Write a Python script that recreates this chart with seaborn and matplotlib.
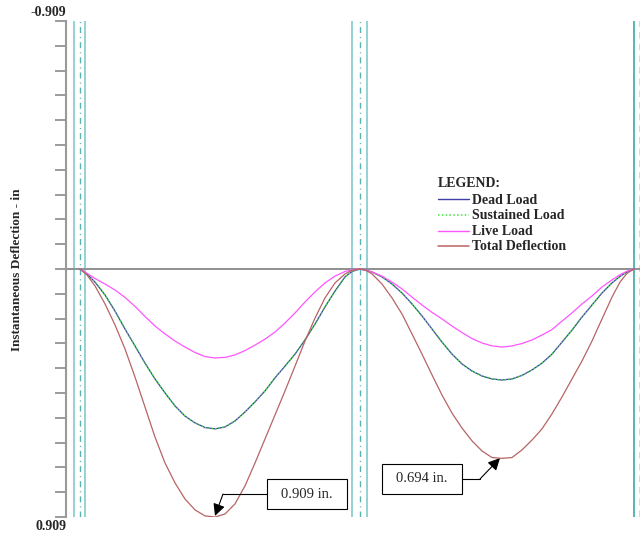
import numpy as np
import matplotlib
matplotlib.use("Agg")
import matplotlib.pyplot as plt
from matplotlib.transforms import Affine2D
from matplotlib.patches import Rectangle
from matplotlib.lines import Line2D
import seaborn as sns

# ---------------- data (x in ft along the beam, deflection in inches) ----------------
beam_x = [0, 0.7, 1.5, 2.5, 3.5, 4.5, 5.5, 6.5, 7.5, 8.5, 9.5, 10.5, 11.5, 12.5, 13.5,
          14.5, 15.5, 16.5, 17.5, 18.5, 19.5, 20.5, 21.5, 22.5, 23.5, 24.5, 25.5, 26.5, 27.2, 28.0,
          28.6, 29.2, 30.2, 31.2, 32.2, 33.2, 34.2, 35.2, 36.2, 37.2, 38.2, 39.2, 40.2, 41.2, 42.2,
          43.2, 44.2, 45.2, 46.2, 47.2, 48.2, 49.2, 50.2, 51.2, 52.2, 53.2, 54.0, 54.7, 55.4]

total_defl = [0, 0.022, 0.062, 0.128, 0.205, 0.293, 0.396, 0.506, 0.616, 0.711, 0.784, 0.843, 0.883, 0.905, 0.909,
              0.898, 0.861, 0.795, 0.711, 0.623, 0.535, 0.447, 0.356, 0.264, 0.180, 0.106, 0.051, 0.018, 0.005, 0,
              0.005, 0.018, 0.055, 0.106, 0.165, 0.238, 0.312, 0.388, 0.462, 0.528, 0.583, 0.630, 0.667, 0.691, 0.694,
              0.691, 0.663, 0.627, 0.586, 0.531, 0.469, 0.403, 0.337, 0.264, 0.183, 0.103, 0.048, 0.016, 0]

sust_defl = [0, 0.018, 0.048, 0.095, 0.154, 0.220, 0.282, 0.345, 0.403, 0.454, 0.502, 0.539, 0.564, 0.581, 0.586,
             0.579, 0.557, 0.524, 0.487, 0.447, 0.399, 0.356, 0.312, 0.260, 0.202, 0.139, 0.081, 0.029, 0.009, 0,
             0.005, 0.011, 0.029, 0.055, 0.088, 0.128, 0.172, 0.220, 0.268, 0.312, 0.348, 0.374, 0.392, 0.403, 0.407,
             0.403, 0.390, 0.370, 0.345, 0.312, 0.268, 0.224, 0.176, 0.132, 0.088, 0.051, 0.027, 0.011, 0]

# dead load curve lies directly under the sustained-load curve
dead_defl = [0, 0.018, 0.048, 0.095, 0.154, 0.220, 0.282, 0.345, 0.403, 0.454, 0.502, 0.539, 0.564, 0.581, 0.586,
             0.579, 0.557, 0.524, 0.487, 0.447, 0.399, 0.356, 0.312, 0.260, 0.202, 0.139, 0.081, 0.029, 0.009, 0,
             0.005, 0.011, 0.029, 0.055, 0.088, 0.128, 0.172, 0.220, 0.268, 0.312, 0.348, 0.374, 0.392, 0.403, 0.407,
             0.403, 0.390, 0.370, 0.345, 0.312, 0.268, 0.224, 0.176, 0.132, 0.088, 0.051, 0.027, 0.011, 0]

live_defl = [0, 0.016, 0.035, 0.055, 0.077, 0.104, 0.137, 0.174, 0.209, 0.238, 0.264, 0.286, 0.306, 0.321, 0.326,
             0.324, 0.315, 0.299, 0.279, 0.257, 0.231, 0.198, 0.161, 0.121, 0.084, 0.051, 0.026, 0.009, 0.003, 0,
             0.004, 0.011, 0.026, 0.048, 0.073, 0.103, 0.132, 0.159, 0.183, 0.209, 0.233, 0.255, 0.271, 0.282, 0.286,
             0.282, 0.273, 0.260, 0.242, 0.222, 0.191, 0.161, 0.128, 0.099, 0.066, 0.040, 0.021, 0.008, 0]

legend_labels = ["Dead Load", "Sustained Load", "Live Load", "Total Deflection"]
y_limit = 0.909
y_top_label = "-0.909"
y_bottom_label = "0.909"
annot_labels = ["0.909 in.", "0.694 in."]

# ---------------- styling ----------------
sns.set_style("white")
plt.rcParams['font.family'] = ['Liberation Serif', 'DejaVu Serif']

W, H = 640, 538
fig = plt.figure(figsize=(6.4, 5.38), dpi=100)
ax = fig.add_axes([66 / W, (H - 517) / H, (640 - 66) / W, 496 / H])
px = Affine2D().scale(1 / W, -1 / H).translate(0, 1) + fig.transFigure

ax.set_xlim(-1.4, 56.0)
ax.set_ylim(y_limit, -y_limit)

# column / support lines
light_teal = '#8ccfcf'
dashdot = (0, (4.3, 2.9, 0.8, 2.9))
for xv in (-0.63, 0.5, 27.23, 28.7):
    ax.axvline(xv, color=light_teal, lw=1.3, zorder=1)
for xv in (-0.05, 27.97):
    ax.axvline(xv, color='#5ab3b3', lw=1.0, ls=dashdot, zorder=1)
ax.axvline(55.4, color='#3aaaa2', lw=1.2, zorder=1)
ax.axvline(55.95, color='#b3dddd', lw=1.2, ls=(0, (4, 3)), zorder=1, clip_on=False)

# zero line
ax.axhline(0, color='#8f8f8f', lw=1.4, zorder=2)

colors = {'dead': '#3f3fa6', 'sust': '#3fe03f', 'live': '#ff55ff', 'total': '#b86464'}
dotted = (0, (1, 1.5))

sns.lineplot(x=beam_x, y=dead_defl, ax=ax, color=colors['dead'], lw=0.9, sort=False, estimator=None, zorder=3)
sns.lineplot(x=beam_x, y=sust_defl, ax=ax, color=colors['sust'], lw=1.0, linestyle=dotted, sort=False, estimator=None, zorder=4)
sns.lineplot(x=beam_x, y=live_defl, ax=ax, color=colors['live'], lw=0.9, sort=False, estimator=None, zorder=4)
sns.lineplot(x=beam_x, y=total_defl, ax=ax, color=colors['total'], lw=0.9, sort=False, estimator=None, zorder=4)

# axes cosmetics
ax.set_xticks([])
ax.set_yticks(np.linspace(-y_limit, y_limit, 21))
ax.set_yticklabels([])
ax.tick_params(axis='y', left=True, length=8, width=1.2, color='#8a8a8a', direction='out')
for s in ('top', 'right', 'bottom'):
    ax.spines[s].set_visible(False)
ax.spines['left'].set_color('#9a9a9a')
ax.spines['left'].set_linewidth(1.5)
ax.set_xlabel("")
ax.set_ylabel("")

fig.text(66, 16, y_top_label, transform=px, ha='right', va='baseline', fontsize=10, fontweight='bold')
fig.text(66, 530, y_bottom_label, transform=px, ha='right', va='baseline', fontsize=10, fontweight='bold')
fig.text(17, 270, "Instantaneous Deflection - in", transform=px, rotation=90, ha='center', va='center',
         fontsize=9.5, fontweight='bold')

# legend
fig.text(438, 187, "LEGEND:", transform=px, ha='left', va='baseline', fontsize=10, fontweight='bold')
leg_styles = [(colors['dead'], '-', 1.0), (colors['sust'], dotted, 1.1), (colors['live'], '-', 1.0), (colors['total'], '-', 1.1)]
for i, (lab, (c, ls, lw)) in enumerate(zip(legend_labels, leg_styles)):
    ly = 199.3 + 15.6 * i
    fig.add_artist(Line2D([438, 469], [ly, ly], transform=px, color=c, ls=ls, lw=lw))
    fig.text(472, ly + 4.3, lab, transform=px, ha='left', va='baseline', fontsize=10, fontweight='bold')

# annotations
def callout(box, text, elbow_from, elbow_to, tip):
    x0, y0, w, h = box
    fig.add_artist(Rectangle((x0, y0), w, h, transform=px, facecolor='white', edgecolor='black', lw=0.8))
    fig.text(x0 + w / 2, y0 + h / 2, text, transform=px, ha='center', va='center', fontsize=10.5)
    fig.add_artist(Line2D([elbow_from[0], elbow_to[0]], [elbow_from[1], elbow_to[1]], transform=px,
                          color='black', lw=0.8))
    ax.annotate("", xy=tip, xycoords='data', xytext=elbow_to, textcoords=px,
                arrowprops=dict(arrowstyle='-|>', color='black', lw=0.8, mutation_scale=18,
                                shrinkA=0, shrinkB=0), annotation_clip=False)

callout((267, 479, 80, 30), annot_labels[0], (267, 494), (223, 494), (13.5, 0.905))
callout((382, 464, 80, 30), annot_labels[1], (462, 479), (480, 479), (42.0, 0.693))

fig.savefig("out.png", dpi=100)
